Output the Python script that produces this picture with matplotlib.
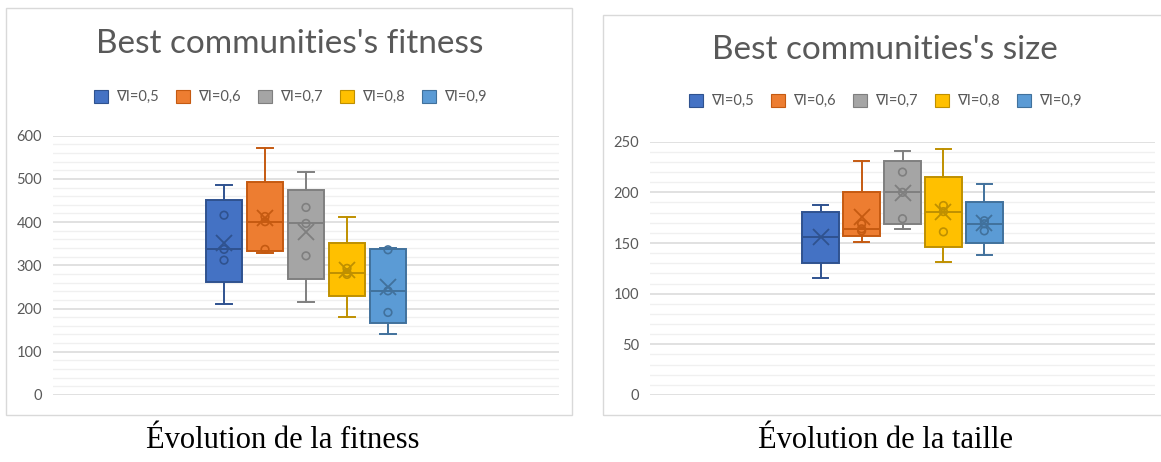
import numpy as np
import matplotlib.pyplot as plt
from matplotlib.patches import Rectangle, Patch

W, H = 1161, 462

labels = ['∇I=0,5', '∇I=0,6', '∇I=0,7', '∇I=0,8', '∇I=0,9']

# fitness of the best community, 5 runs per setting
fitness_05 = [210, 312, 337, 416, 487]
fitness_06 = [329, 337, 401, 413, 572]
fitness_07 = [215, 322, 397, 434, 516]
fitness_08 = [181, 279, 283, 293, 412]
fitness_09 = [141, 191, 241, 336, 339]

# size of the best community, 5 runs per setting
size_05 = [115, 146, 156, 174, 188]
size_06 = [151, 162, 164, 169, 231]
size_07 = [164, 174, 200, 220, 241]
size_08 = [131, 161, 181, 187, 243]
size_09 = [138, 162, 169, 172, 208]

fills = ['#4472C4', '#ED7D31', '#A5A5A5', '#FFC000', '#5B9BD5']
edges = ['#2F528F', '#C55A11', '#7F7F7F', '#BF9000', '#41719C']

TXT = '#595959'
FONT = ['Lato', 'DejaVu Sans']


def fx(x):
    return x / W


def fy(y):
    return 1 - y / H


def box_stats(vals):
    v = np.sort(np.asarray(vals, dtype=float))
    q1, med, q3 = np.percentile(v, [25, 50, 75], method='weibull')
    return dict(med=med, q1=q1, q3=q3, whislo=v.min(), whishi=v.max(),
                mean=v.mean(), fliers=[])


def draw_chart(rect, series, ymax, major, minor, show_points):
    ax = fig.add_axes(rect)
    ax.set_axisbelow(True)
    for i, vals in enumerate(series):
        x = 0.5 + (i - 2) * 0.081
        ec = edges[i]
        ax.bxp([box_stats(vals)], positions=[x], widths=0.073,
               patch_artist=True, showmeans=True, showfliers=False,
               boxprops=dict(facecolor=fills[i], edgecolor=ec, linewidth=1.4),
               medianprops=dict(color=ec, linewidth=1.4),
               whiskerprops=dict(color=ec, linewidth=1.4),
               capprops=dict(color=ec, linewidth=1.4),
               capwidths=0.03,
               meanprops=dict(marker='x', markeredgecolor=ec, markersize=11,
                              markeredgewidth=1.3))
        if show_points[i]:
            inner = np.sort(vals)[1:-1]
            ax.scatter([x] * len(inner), inner, s=30, facecolors='none',
                       edgecolors=ec, linewidths=1.2, zorder=4)
    ax.set_xlim(0, 1)
    ax.set_ylim(0, ymax)
    ax.set_xticks([])
    ax.set_yticks(np.arange(0, ymax + 1, major))
    ax.set_yticks(np.arange(0, ymax + 1, minor), minor=True)
    ax.grid(which='major', axis='y', color='#d9d9d9', linewidth=1.1)
    ax.grid(which='minor', axis='y', color='#f0f0f0', linewidth=1.0)
    ax.tick_params(which='both', length=0, pad=8, labelsize=10.5,
                   labelcolor=TXT)
    for t in ax.get_yticklabels():
        t.set_family(FONT)
    for s in ax.spines.values():
        s.set_visible(False)
    return ax


fig = plt.figure(figsize=(W / 100, H / 100), dpi=100)

# chart frames
for x0, y0, x1, y1 in [(6, 8, 572, 415), (603, 15, 1166, 415)]:
    fig.patches.append(Rectangle((fx(x0), fy(y1)), fx(x1 - x0), (y1 - y0) / H,
                                 transform=fig.transFigure, fill=False,
                                 edgecolor='#d9d9d9', linewidth=1.0))

draw_chart([fx(53), fy(395), fx(506), 259.3 / H],
           [fitness_05, fitness_06, fitness_07, fitness_08, fitness_09],
           600, 100, 20, [True] * 5)
draw_chart([fx(650), fy(395), fx(505), 253.3 / H],
           [size_05, size_06, size_07, size_08, size_09],
           250, 50, 10, [False, True, True, True, True])

handles = [Patch(facecolor=f, edgecolor=e, linewidth=0.8)
           for f, e in zip(fills, edges)]
for cx, ty, ly, title in [(290, 44, 97, "Best communities's fitness"),
                          (885, 50, 101, "Best communities's size")]:
    fig.text(fx(cx), fy(ty), title, ha='center', va='center', fontsize=24,
             color=TXT, family=FONT)
    fig.legend(handles, labels, loc='center', bbox_to_anchor=(fx(cx), fy(ly)),
               ncol=5, frameon=False, handlelength=1.0, handleheight=1.0,
               handletextpad=0.5, columnspacing=1.2,
               prop=dict(family=FONT, size=10.5), labelcolor=TXT)

fig.text(fx(283), fy(448), 'Évolution de la fitness', ha='center',
         va='baseline', fontsize=22, family='Liberation Serif', color='black')
fig.text(fx(885), fy(448), 'Évolution de la taille', ha='center',
         va='baseline', fontsize=22, family='Liberation Serif', color='black')

fig.savefig('out.png', dpi=100)
